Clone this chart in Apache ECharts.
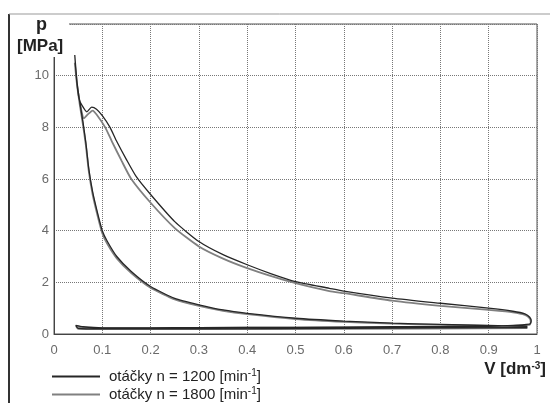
<!DOCTYPE html>
<html><head><meta charset="utf-8">
<script src="https://cdn.jsdelivr.net/npm/echarts@6/dist/echarts.min.js"></script>
<style>html,body{margin:0;padding:0;background:#fff}#c{width:550px;height:403px}</style>
</head><body><div id="c"></div>
<script>
// volume [dm3] and pressure [MPa] for each cycle (compression, expansion, exhaust, intake)
var v1200 = [0.98,0.9,0.8,0.7,0.6,0.5,0.4,0.35,0.3,0.25,0.2,0.16,0.13,0.11,0.1,0.09,0.08,0.072,0.066,0.06,0.054,0.048,0.043,
  0.047,0.052,0.058,0.068,0.078,0.088,0.1,0.116,0.13,0.15,0.17,0.2,0.25,0.3,0.35,0.4,0.45,0.5,0.57,0.6,0.7,0.8,0.9,0.95,0.975,0.985,0.988,0.985,
  0.9,0.7,0.5,0.3,0.2,0.1,0.06,0.045,
  0.05,0.1,0.3,0.6,0.98];
var p1200 = [0.3,0.33,0.37,0.42,0.5,0.61,0.8,0.93,1.13,1.38,1.84,2.42,3.0,3.6,4.0,4.7,5.5,6.4,7.4,8.2,8.9,9.7,10.8,
  9.8,9.1,8.85,8.6,8.78,8.7,8.45,8.0,7.45,6.75,6.1,5.4,4.35,3.58,3.07,2.68,2.33,2.03,1.77,1.66,1.39,1.19,1.0,0.88,0.78,0.65,0.5,0.38,
  0.3,0.28,0.26,0.25,0.24,0.24,0.28,0.33,
  0.22,0.2,0.2,0.22,0.25];
var v1800 = [0.98,0.9,0.8,0.7,0.6,0.5,0.4,0.35,0.3,0.25,0.2,0.16,0.13,0.11,0.1,0.09,0.08,0.072,0.066,0.06,0.054,0.048,0.043,
  0.048,0.055,0.062,0.07,0.08,0.09,0.106,0.12,0.14,0.16,0.2,0.25,0.3,0.35,0.4,0.45,0.5,0.57,0.6,0.7,0.8,0.9,0.95,0.975,0.985,0.987,0.984,
  0.9,0.7,0.5,0.3,0.2,0.1,0.06,0.046,
  0.05,0.1,0.3,0.6,0.98];
var p1800 = [0.28,0.31,0.35,0.4,0.47,0.58,0.77,0.9,1.09,1.34,1.79,2.36,2.93,3.5,3.9,4.6,5.4,6.3,7.3,8.1,8.8,9.6,10.5,
  9.6,8.8,8.35,8.5,8.65,8.45,8.0,7.45,6.7,6.0,5.08,4.1,3.39,2.92,2.55,2.24,1.97,1.66,1.58,1.29,1.09,0.93,0.84,0.74,0.6,0.45,0.35,
  0.28,0.26,0.25,0.24,0.23,0.23,0.26,0.3,
  0.2,0.19,0.19,0.2,0.23];
var seriesNames = ['1200', '1800'];
var xTicks = [0,0.1,0.2,0.3,0.4,0.5,0.6,0.7,0.8,0.9,1];
var yTicks = [0,2,4,6,8,10];

function pairs(v, p){ return v.map(function(x,i){ return [x, p[i]]; }); }

var chart = echarts.init(document.getElementById('c'), null, {renderer:'canvas'});
var labelFont = {color:'#6a6a6a', fontSize:13, fontFamily:'Liberation Sans, Arial, sans-serif'};
function legendFor(name, top){
  return {
    data:[name], orient:'vertical', left:47, top:top, itemGap:0,
    itemWidth:48, itemHeight:2, icon:'rect',
    formatter:function(n){ return 'otáčky n = ' + n + ' [min{s|-1}]'; },
    textStyle:{fontSize:15, color:'#222', fontFamily:'Liberation Sans, Arial, sans-serif', padding:[0,0,0,4], lineHeight:17,
      rich:{s:{fontSize:10, verticalAlign:'top', lineHeight:9, color:'#222'}}}
  };
}
chart.setOption({
  animation:false,
  backgroundColor:'#fff',
  grid:{left:54, right:13, top:24, bottom:69, show:true, borderColor:'#555', borderWidth:1, backgroundColor:'transparent'},
  xAxis:{type:'value', min:0, max:1, interval:0.1,
    axisLine:{show:true, lineStyle:{color:'#444', width:1}},
    axisTick:{show:false},
    axisLabel:Object.assign({margin:10, formatter:function(v){ return xTicks.indexOf(Math.round(v*10)/10)>=0 ? String(Math.round(v*10)/10) : ''; }}, labelFont),
    splitLine:{show:true, lineStyle:{color:'#777', type:[1,1], width:1}}},
  yAxis:{type:'value', min:0, max:12, interval:2,
    axisLine:{show:true, lineStyle:{color:'#444', width:1}},
    axisTick:{show:false},
    axisLabel:Object.assign({margin:5, formatter:function(v){ return yTicks.indexOf(v)>=0 ? String(v) : ''; }}, labelFont),
    splitLine:{show:true, lineStyle:{color:'#777', type:[1,1], width:1}}},
  legend:[legendFor('1200', 363), legendFor('1800', 381)],
  series:[
    {name:'1800', type:'line', data:pairs(v1800,p1800), showSymbol:false, symbol:'none', smooth:0.2,
      lineStyle:{color:'#808080', width:1.8}, itemStyle:{color:'#808080'}, z:2},
    {name:'1200', type:'line', data:pairs(v1200,p1200), showSymbol:false, symbol:'none', smooth:0.2,
      lineStyle:{color:'#262626', width:1.3}, itemStyle:{color:'#262626'}, z:3}
  ],
  graphic:[
    {type:'line', shape:{x1:9, y1:14, x2:9, y2:403}, style:{stroke:'#333', lineWidth:2}, z:10},
    {type:'line', shape:{x1:9, y1:14, x2:550, y2:14}, style:{stroke:'#999', lineWidth:1}, z:10},
    {type:'rect', shape:{x:16, y:16, width:53, height:41}, style:{fill:'#fff'}, z:20},
    {type:'text', left:36, top:16, z:21, style:{text:'p', fontSize:18, fontWeight:'bold', fill:'#222', fontFamily:'Liberation Sans, Arial, sans-serif'}},
    {type:'text', left:17, top:38, z:21, style:{text:'[MPa]', fontSize:17, fontWeight:'bold', fill:'#222', fontFamily:'Liberation Sans, Arial, sans-serif'}},
    {type:'text', right:4, top:361, z:21, style:{text:'V [dm{s|-3}]', fontSize:17, fontWeight:'bold', fill:'#222', fontFamily:'Liberation Sans, Arial, sans-serif',
      rich:{s:{fontSize:10, fontWeight:'bold', verticalAlign:'top', lineHeight:9, fill:'#222'}}}}
  ]
});
</script></body></html>
